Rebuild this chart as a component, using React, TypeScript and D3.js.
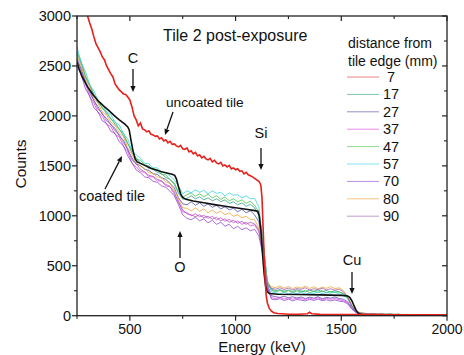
import React from "react";
import * as d3 from "d3";

const W = 464;
const H = 355;

// Energy grid of the coated-tile spectra (keV)
const coatedE = [
  250, 270, 290, 310, 330, 350, 370, 390, 410, 430, 450, 470, 490, 510, 530, 550, 570, 590, 610, 630,
  650, 670, 690, 710, 730, 750, 770, 790, 810, 830, 850, 870, 890, 910, 930, 950, 970, 990, 1010, 1030,
  1050, 1070, 1090, 1110, 1130, 1150, 1170, 1190, 1210, 1230, 1250, 1270, 1290, 1310, 1330, 1350, 1370, 1390, 1410, 1430,
  1450, 1470, 1490, 1510, 1530, 1550, 1570, 1590, 1610, 1630, 1650, 1670, 1690, 1710, 1730, 1750, 1770, 1790, 1810, 1830, 1850,
];

const s17 = [
  2620, 2520, 2390, 2300, 2215, 2130, 2085, 2020, 1975, 1915, 1870, 1800, 1725, 1630, 1580, 1525, 1510, 1475, 1465, 1435,
  1420, 1385, 1365, 1315, 1225, 1165, 1175, 1200, 1170, 1190, 1160, 1180, 1150, 1170, 1140, 1160, 1125, 1140, 1110, 1130,
  1095, 1115, 1080, 1000, 720, 345, 265, 250, 262, 245, 258, 242, 260, 248, 238, 256, 244, 258, 240, 252,
  236, 250, 238, 222, 185, 98, 40, 24, 21, 17, 20, 14, 18, 13, 16, 11, 14, 10, 12, 8, 9,
];
const s27 = [
  2570, 2470, 2340, 2255, 2150, 2090, 2015, 1975, 1910, 1875, 1800, 1755, 1660, 1580, 1515, 1505, 1465, 1455, 1420, 1415,
  1380, 1365, 1325, 1280, 1180, 1120, 1110, 1140, 1105, 1130, 1095, 1120, 1085, 1105, 1070, 1090, 1060, 1075, 1040, 1065,
  1030, 1050, 1010, 940, 680, 310, 200, 190, 182, 195, 178, 190, 176, 188, 172, 186, 175, 190, 170, 184,
  176, 188, 172, 165, 140, 80, 36, 22, 18, 15, 17, 12, 15, 11, 13, 10, 12, 9, 10, 8, 6,
];
const s37 = [
  2540, 2405, 2320, 2190, 2130, 2030, 2000, 1915, 1895, 1815, 1790, 1695, 1640, 1525, 1490, 1445, 1435, 1390, 1390, 1350,
  1345, 1300, 1290, 1215, 1150, 1040, 1030, 1000, 1020, 990, 1005, 975, 995, 960, 980, 945, 965, 930, 950, 915,
  935, 900, 910, 840, 620, 290, 180, 172, 185, 168, 180, 165, 178, 170, 162, 176, 166, 180, 160, 174,
  164, 172, 160, 150, 130, 70, 32, 20, 16, 14, 16, 11, 14, 10, 12, 9, 11, 8, 9, 7, 6,
];
const s47 = [
  2650, 2545, 2400, 2320, 2205, 2160, 2070, 2045, 1965, 1945, 1860, 1830, 1720, 1660, 1570, 1555, 1510, 1500, 1460, 1465,
  1415, 1410, 1360, 1330, 1240, 1190, 1210, 1230, 1195, 1220, 1190, 1215, 1180, 1200, 1165, 1190, 1150, 1170, 1140, 1160,
  1125, 1145, 1105, 1040, 740, 350, 255, 240, 252, 236, 250, 232, 248, 238, 255, 230, 246, 234, 250, 228,
  244, 232, 240, 215, 180, 100, 45, 26, 22, 20, 16, 19, 14, 17, 13, 15, 11, 13, 9, 10, 7,
];
const s57 = [
  2690, 2530, 2445, 2310, 2250, 2150, 2120, 2035, 2015, 1935, 1910, 1820, 1770, 1650, 1610, 1575, 1525, 1520, 1480, 1480,
  1435, 1430, 1400, 1360, 1300, 1220, 1250, 1230, 1260, 1235, 1255, 1220, 1250, 1225, 1235, 1200, 1230, 1205, 1210, 1180,
  1200, 1170, 1175, 1090, 760, 330, 240, 228, 220, 235, 218, 230, 222, 236, 215, 228, 224, 238, 220, 232,
  225, 236, 218, 205, 170, 95, 42, 28, 24, 18, 22, 15, 19, 14, 17, 12, 15, 10, 13, 9, 7,
];
const s70 = [
  2500, 2410, 2270, 2200, 2080, 2040, 1950, 1925, 1845, 1825, 1740, 1700, 1600, 1530, 1460, 1430, 1390, 1380, 1345, 1335,
  1300, 1285, 1245, 1200, 1110, 1010, 975, 960, 985, 950, 970, 930, 955, 915, 935, 895, 915, 870, 895, 860,
  880, 850, 865, 800, 600, 280, 165, 160, 170, 152, 166, 150, 162, 156, 148, 164, 152, 166, 150, 160,
  148, 158, 146, 140, 120, 65, 30, 18, 15, 13, 15, 10, 13, 9, 11, 8, 10, 7, 8, 6, 5,
];
const s80 = [
  2600, 2500, 2365, 2290, 2170, 2125, 2035, 2010, 1935, 1905, 1830, 1790, 1680, 1615, 1535, 1495, 1475, 1430, 1425, 1390,
  1380, 1340, 1325, 1255, 1170, 1080, 1075, 1050, 1080, 1045, 1070, 1030, 1060, 1025, 1045, 1010, 1030, 995, 1010, 980,
  995, 965, 960, 880, 640, 330, 290, 280, 298, 275, 292, 270, 288, 276, 296, 272, 290, 268, 285, 274,
  292, 270, 280, 250, 195, 105, 48, 30, 25, 20, 23, 16, 20, 15, 18, 13, 16, 11, 14, 10, 8,
];
const s90 = [
  2580, 2445, 2345, 2225, 2155, 2065, 2025, 1950, 1920, 1850, 1815, 1730, 1665, 1560, 1525, 1465, 1440, 1405, 1395, 1365,
  1350, 1315, 1295, 1235, 1130, 1060, 1020, 1010, 990, 1010, 980, 995, 965, 985, 950, 970, 935, 955, 925, 945,
  915, 935, 920, 860, 630, 310, 275, 265, 280, 262, 276, 258, 272, 264, 280, 256, 270, 262, 275, 258,
  270, 255, 265, 240, 185, 95, 42, 26, 22, 18, 21, 14, 18, 12, 16, 11, 14, 9, 12, 8, 7,
];

// Uncoated tile (red)
const redE = [
  290, 300, 310, 320, 330, 340, 350, 360, 370, 380, 390, 400, 410, 420, 430, 440, 450, 460, 470, 480,
  490, 500, 510, 520, 530, 540, 550, 560, 570, 580, 590, 600, 610, 620, 630, 640, 650, 660, 670, 680,
  690, 700, 710, 720, 730, 740, 750, 760, 770, 780, 790, 800, 810, 820, 830, 840, 850, 860, 870, 880,
  890, 900, 910, 920, 930, 940, 950, 960, 970, 980, 990, 1000, 1010, 1020, 1030, 1040, 1050, 1060, 1070, 1080,
  1090, 1100, 1110, 1115, 1120, 1125, 1130, 1135, 1140, 1145, 1150, 1160, 1170, 1180, 1200, 1250, 1300, 1340, 1350, 1360,
  1400, 1500, 1600, 1700, 1800, 1900, 2000,
];
const redC = [
  3080, 3000, 2930, 2870, 2790, 2720, 2680, 2640, 2590, 2560, 2500, 2460, 2420, 2390, 2320, 2290, 2260, 2240, 2220, 2215,
  2190, 2160, 2090, 2000, 1960, 1900, 1930, 1870, 1860, 1840, 1850, 1815, 1810, 1795, 1800, 1770, 1780, 1750, 1760, 1730,
  1745, 1715, 1720, 1700, 1690, 1705, 1670, 1665, 1680, 1640, 1650, 1620, 1635, 1600, 1610, 1580, 1595, 1570, 1560, 1575,
  1540, 1555, 1530, 1520, 1535, 1500, 1510, 1490, 1505, 1470, 1480, 1460, 1470, 1445, 1450, 1420, 1435, 1410, 1400, 1390,
  1375, 1360, 1345, 1330, 1300, 1180, 900, 600, 360, 200, 130, 70, 45, 30, 22, 15, 14, 20, 35, 20,
  13, 12, 11, 10, 10, 9, 9,
];

// Smooth black curve
const blackE = [
  250, 260, 275, 300, 325, 350, 375, 400, 425, 450, 475, 490, 497, 505, 515, 525, 535, 550, 575, 600,
  650, 700, 712, 720, 730, 740, 750, 765, 800, 850, 900, 950, 1000, 1050, 1090, 1105, 1112, 1120, 1128, 1135,
  1142, 1150, 1160, 1200, 1300, 1400, 1500, 1530, 1540, 1550, 1560, 1570, 1580, 1595, 1650, 1800, 2000,
];
const blackC = [
  2540, 2470, 2390, 2290, 2215, 2150, 2100, 2055, 2005, 1960, 1920, 1890, 1860, 1760, 1650, 1570, 1540, 1525, 1500, 1475,
  1440, 1415, 1405, 1370, 1290, 1220, 1185, 1165, 1148, 1130, 1112, 1095, 1080, 1065, 1052, 1045, 1000, 850, 600, 420,
  300, 240, 222, 215, 212, 208, 203, 198, 185, 150, 100, 55, 25, 12, 8, 6, 5,
];

const legendLabels = ["7", "17", "27", "37", "47", "57", "70", "80", "90"];
const legendColors = ["#e03030", "#2a9a80", "#4848a8", "#e040e0", "#40c040", "#30d0e0", "#8a40d0", "#f0a030", "#9a5aa8"];
const coatedSeries = [s17, s27, s37, s47, s57, s70, s80, s90];

const xTickLabels = [500, 1000, 1500, 2000];
const yTickLabels = [0, 500, 1000, 1500, 2000, 2500, 3000];

const L = 77, R = 447, T = 16, B = 315.7;
const FONT = "'Liberation Sans', Arial, sans-serif";

export default function App() {
  const x = d3.scaleLinear().domain([250, 2000]).range([L, R]);
  const y = d3.scaleLinear().domain([0, 3000]).range([B, T]);
  const line = d3
    .line<[number, number]>()
    .x((d) => x(d[0]))
    .y((d) => y(d[1]));
  const pts = (es: number[], cs: number[]) => es.map((e, i) => [e, cs[i]] as [number, number]);

  const xMinor = d3.range(250, 2001, 250).filter((v) => !xTickLabels.includes(v));
  const yMinor = d3.range(250, 3000, 500);

  const arrow = (x1: number, y1: number, x2: number, y2: number, key: string) => {
    const ang = Math.atan2(y2 - y1, x2 - x1);
    const hl = 6, hw = 2.6;
    const bx = x2 - hl * Math.cos(ang), by = y2 - hl * Math.sin(ang);
    const px = -Math.sin(ang) * hw, py = Math.cos(ang) * hw;
    return (
      <g key={key}>
        <line x1={x1} y1={y1} x2={bx} y2={by} stroke="#111" strokeWidth={1.3} />
        <path d={`M${x2},${y2}L${bx + px},${by + py}L${bx - px},${by - py}Z`} fill="#111" />
      </g>
    );
  };

  return (
    <svg width={W} height={H} style={{ position: "absolute", left: 0, top: 0, background: "#fff" }} fontFamily={FONT}>
      <defs>
        <clipPath id="plot">
          <rect x={L} y={T} width={R - L} height={B - T} />
        </clipPath>
      </defs>
      <rect width={W} height={H} fill="#fff" />
      <g clipPath="url(#plot)" fill="none">
        {coatedSeries.map((s, i) => (
          <path key={i} d={line(pts(coatedE, s)) || ""} stroke={legendColors[i + 1]} strokeWidth={0.9} strokeOpacity={0.85} />
        ))}
        <path d={line(pts(blackE, blackC)) || ""} stroke="#111" strokeWidth={1.6} />
        <path d={line(pts(redE, redC)) || ""} stroke="#e8201c" strokeWidth={1.6} />
      </g>
      {/* frame */}
      <rect x={L} y={T} width={R - L} height={B - T} fill="none" stroke="#222" strokeWidth={1.3} />
      {/* x ticks */}
      {xTickLabels.map((v) => (
        <g key={"xt" + v}>
          <line x1={x(v)} x2={x(v)} y1={B} y2={B + 5} stroke="#222" strokeWidth={1.2} />
          <line x1={x(v)} x2={x(v)} y1={T} y2={T + 5} stroke="#222" strokeWidth={1.2} />
          <text x={x(v)} y={B + 18} textAnchor="middle" fontSize={14} fill="#111">{v}</text>
        </g>
      ))}
      {xMinor.map((v) => (
        <g key={"xm" + v}>
          <line x1={x(v)} x2={x(v)} y1={B} y2={B + 3} stroke="#222" strokeWidth={1.1} />
          <line x1={x(v)} x2={x(v)} y1={T} y2={T + 3} stroke="#222" strokeWidth={1.1} />
        </g>
      ))}
      {/* y ticks */}
      {yTickLabels.map((v) => (
        <g key={"yt" + v}>
          <line x1={L - 5} x2={L} y1={y(v)} y2={y(v)} stroke="#222" strokeWidth={1.2} />
          <line x1={R - 5} x2={R} y1={y(v)} y2={y(v)} stroke="#222" strokeWidth={1.2} />
          <text x={L - 6} y={y(v) + 5} textAnchor="end" fontSize={14.5} fill="#111">{v}</text>
        </g>
      ))}
      {yMinor.map((v) => (
        <g key={"ym" + v}>
          <line x1={L - 3} x2={L} y1={y(v)} y2={y(v)} stroke="#222" strokeWidth={1.1} />
          <line x1={R - 3} x2={R} y1={y(v)} y2={y(v)} stroke="#222" strokeWidth={1.1} />
        </g>
      ))}
      {/* axis titles */}
      <text x={262} y={352} textAnchor="middle" fontSize={15} fill="#111">Energy (keV)</text>
      <text transform={`translate(26,164) rotate(-90)`} textAnchor="middle" fontSize={15.5} fill="#111">Counts</text>
      {/* title */}
      <text x={163} y={41} fontSize={16} fill="#111">Tile 2 post-exposure</text>
      {/* legend */}
      <text x={348} y={48} fontSize={14} fill="#111">distance from</text>
      <text x={348} y={66} fontSize={14} fill="#111">tile edge (mm)</text>
      {legendLabels.map((lab, i) => {
        const ly = 77 + i * 17.4;
        return (
          <g key={"lg" + lab}>
            <line x1={347} x2={379} y1={ly} y2={ly} stroke={legendColors[i]} strokeWidth={1} strokeOpacity={0.6} />
            <text x={391} y={ly + 5} textAnchor="middle" fontSize={14.5} fill="#111">{lab}</text>
          </g>
        );
      })}
      {/* annotations */}
      <text x={133} y={63} textAnchor="middle" fontSize={14.5} fill="#111">C</text>
      {arrow(133, 69, 133, 92, "aC")}
      <text x={166} y={107} fontSize={13.7} fill="#111">uncoated tile</text>
      {arrow(173, 112, 165, 135, "aU")}
      <text x={261} y={138} textAnchor="middle" fontSize={14.5} fill="#111">Si</text>
      {arrow(261, 148, 261, 170, "aSi")}
      <text x={180} y={272} textAnchor="middle" fontSize={14.5} fill="#111">O</text>
      {arrow(180, 258, 180, 231, "aO")}
      <text x={352} y={265} textAnchor="middle" fontSize={14.5} fill="#111">Cu</text>
      {arrow(352, 272, 352, 294, "aCu")}
      <text x={79} y={201} fontSize={14.5} fill="#111">coated tile</text>
      {arrow(105, 189, 122, 156, "aCt")}
    </svg>
  );
}
